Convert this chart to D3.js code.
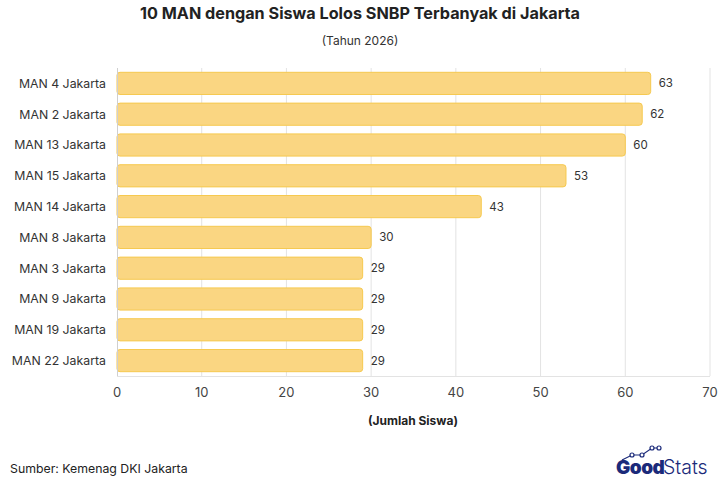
<!DOCTYPE html>
<html><head><meta charset="utf-8">
<script src="https://cdn.jsdelivr.net/npm/d3@7"></script>
<style>body{margin:0;background:#fff}svg{display:block;font-family:Inter,"Noto Sans",sans-serif}</style>
</head><body><svg id="c" width="720" height="480"></svg>
<script>
const categories = ["MAN 4 Jakarta","MAN 2 Jakarta","MAN 13 Jakarta","MAN 15 Jakarta","MAN 14 Jakarta","MAN 8 Jakarta","MAN 3 Jakarta","MAN 9 Jakarta","MAN 19 Jakarta","MAN 22 Jakarta"];
const values = [63,62,60,53,43,30,29,29,29,29];
const ticks = [0,10,20,30,40,50,60,70];

const svg = d3.select("#c");
const m = {l:117, r:710, t:68, b:376};
const x = d3.scaleLinear().domain([0,70]).range([m.l, m.r]);
const y = d3.scaleBand().domain(categories).range([m.t, m.b]).paddingInner(0.28).paddingOuter(0.14);

// grid
svg.append("g").selectAll("line").data(ticks.slice(1)).join("line")
  .attr("x1", d=>x(d)).attr("x2", d=>x(d)).attr("y1", m.t).attr("y2", m.b)
  .attr("stroke", "#e3e3e3").attr("stroke-width", 1);
svg.append("line").attr("x1", m.l).attr("x2", m.r).attr("y1", m.b+0.5).attr("y2", m.b+0.5).attr("stroke","#e3e3e3");

// bars
svg.append("g").selectAll("rect").data(values).join("rect")
  .attr("x", x(0)).attr("y", (d,i)=>y(categories[i]))
  .attr("width", d=>x(d)-x(0)).attr("height", y.bandwidth())
  .attr("rx", 3).attr("fill", "#fad682").attr("stroke", "#f6c94f").attr("stroke-width", 1);

// left axis line
svg.append("line").attr("x1", m.l+0.5).attr("x2", m.l+0.5).attr("y1", m.t).attr("y2", m.b).attr("stroke","#cfcfcf");

// value labels
svg.append("g").selectAll("text").data(values).join("text")
  .attr("x", d=>x(d)+8).attr("y", (d,i)=>y(categories[i])+y.bandwidth()/2)
  .attr("dy","0.35em").attr("font-size",11.5).attr("fill","#333").text(d=>d);

// category labels
svg.append("g").selectAll("text").data(categories).join("text")
  .attr("x", 106).attr("y", d=>y(d)+y.bandwidth()/2).attr("dy","0.35em")
  .attr("text-anchor","end").attr("font-size",12.3).attr("fill","#333").text(d=>d);

// x tick labels
svg.append("g").selectAll("text").data(ticks).join("text")
  .attr("x", d=>x(d)).attr("y", 397).attr("text-anchor","middle")
  .attr("font-size",13).attr("fill","#444").text(d=>d);

svg.append("text").attr("x", 413).attr("y", 425).attr("text-anchor","middle")
  .attr("font-size",12).attr("font-weight","bold").attr("fill","#222").text("(Jumlah Siswa)");

svg.append("text").attr("x", 360).attr("y", 19).attr("text-anchor","middle")
  .attr("font-size",16.2).attr("font-weight","bold").attr("fill","#222").text("10 MAN dengan Siswa Lolos SNBP Terbanyak di Jakarta");
svg.append("text").attr("x", 360).attr("y", 45).attr("text-anchor","middle")
  .attr("font-size",12).attr("fill","#333").text("(Tahun 2026)");

svg.append("text").attr("x", 10).attr("y", 473).attr("font-size",12.3).attr("fill","#222").text("Sumber: Kemenag DKI Jakarta");

// logo
const lg = svg.append("g");
lg.append("text").attr("x", 616).attr("y", 474).attr("font-size",19).attr("font-weight","900").attr("fill","#1b2a7a").attr("letter-spacing","-0.5").text("Good");
lg.append("text").attr("x", 663).attr("y", 474).attr("font-size",19.5).attr("font-weight","300").attr("fill","#1b2a7a").text("Stats");
const pts = [[622,460],[632,455],[642,455],[652,448],[659,448]];
lg.append("path").attr("d", d3.line()(pts)).attr("fill","none").attr("stroke","#1b2a7a").attr("stroke-width",1.2);
lg.selectAll("circle").data(pts.slice(1)).join("circle").attr("cx",d=>d[0]).attr("cy",d=>d[1]).attr("r",2)
  .attr("fill","#fff").attr("stroke","#1b2a7a").attr("stroke-width",1.2);
</script></body></html>
